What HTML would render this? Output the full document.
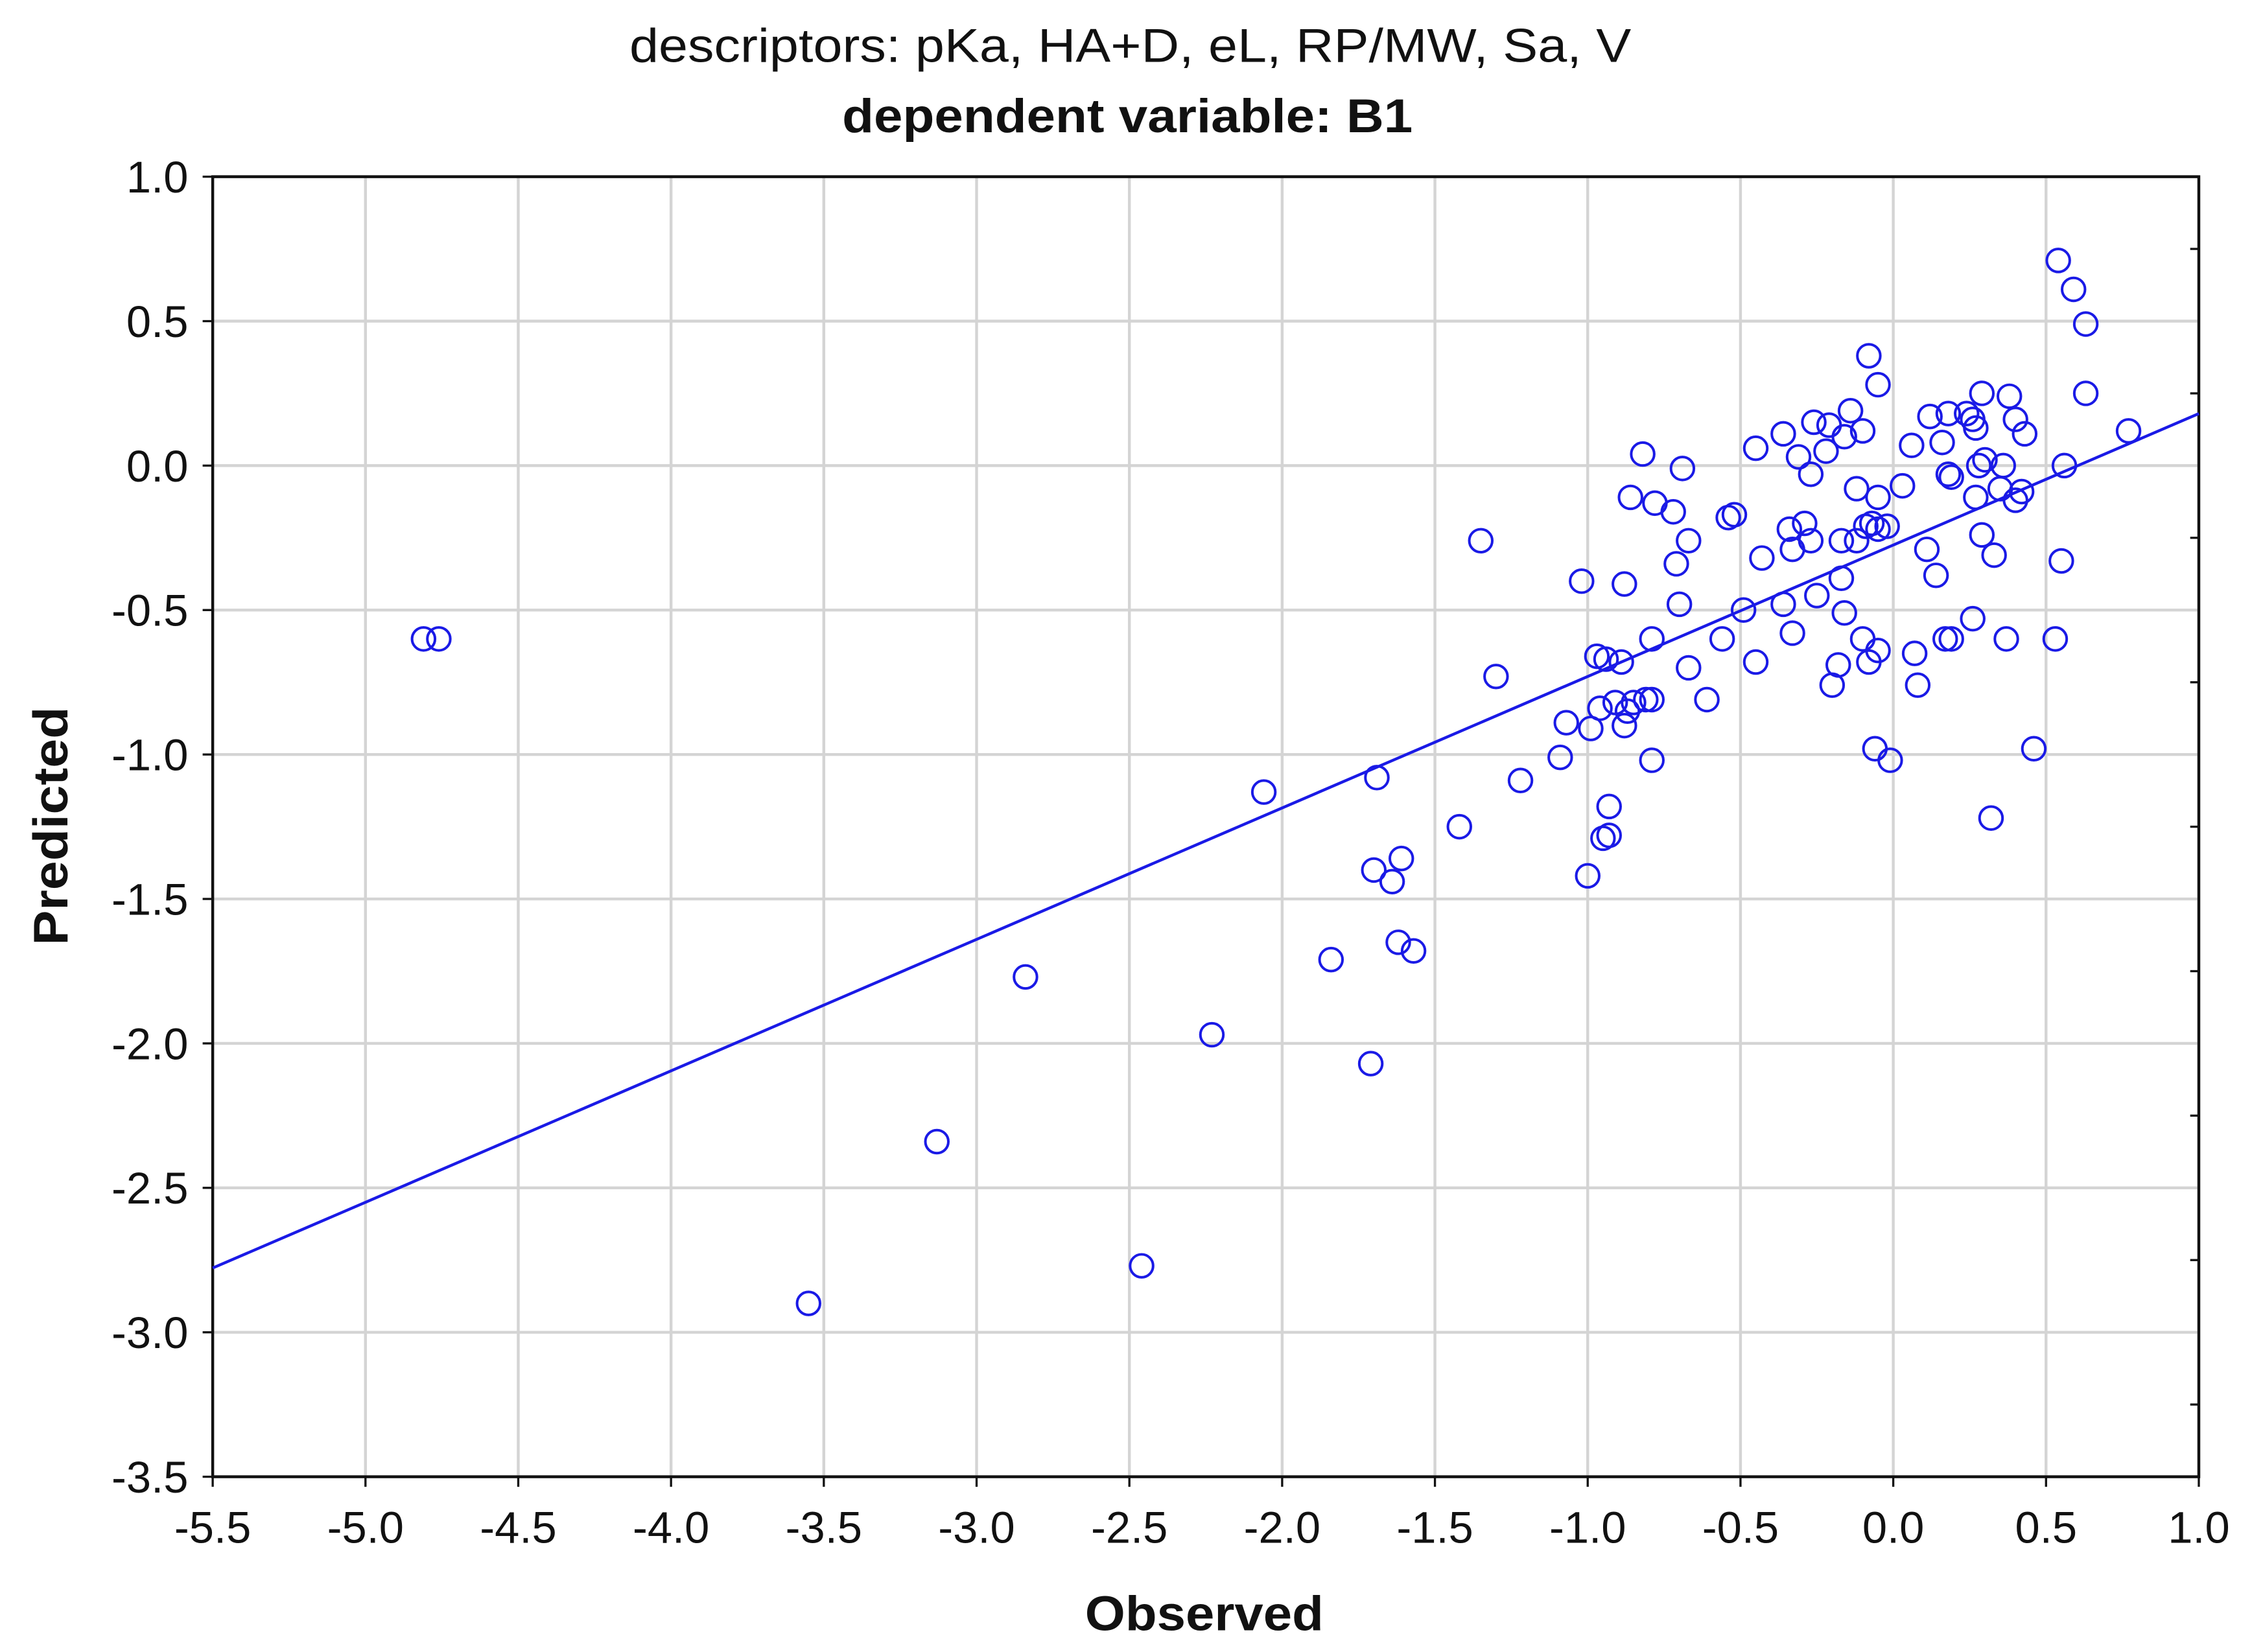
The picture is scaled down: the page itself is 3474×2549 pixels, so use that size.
<!DOCTYPE html>
<html><head><meta charset="utf-8"><style>html,body{margin:0;padding:0;background:#fff}svg{display:block}</style></head>
<body>
<svg id="chart" width="3474" height="2549" viewBox="0 0 1567 1150" preserveAspectRatio="none" xmlns="http://www.w3.org/2000/svg" font-family="Liberation Sans, Arial, sans-serif">
<text x="438" y="43" font-size="33" fill="#111" textLength="697" lengthAdjust="spacingAndGlyphs">descriptors: pKa, HA+D, eL, RP/MW, Sa, V</text>
<text x="586" y="92" font-size="33" font-weight="bold" fill="#111" textLength="397" lengthAdjust="spacingAndGlyphs">dependent variable: B1</text>
<g id="grid"></g>
<g id="axes"></g>
<g id="marks"></g>
<text x="755" y="1135" font-size="34" font-weight="bold" fill="#111" textLength="166" lengthAdjust="spacingAndGlyphs">Observed</text>
<text transform="translate(47,658) rotate(-90)" font-size="34" font-weight="bold" fill="#111" textLength="166" lengthAdjust="spacingAndGlyphs">Predicted</text>
</svg>
<script>
const xTicks = [-5.5,-5.0,-4.5,-4.0,-3.5,-3.0,-2.5,-2.0,-1.5,-1.0,-0.5,0.0,0.5,1.0];
const yTicks = [1.0,0.5,0.0,-0.5,-1.0,-1.5,-2.0,-2.5,-3.0,-3.5];
const regression = [-0.275, 0.455];
const observed = [-4.81,-4.76,-3.55,-3.13,-2.84,-2.46,-2.23,-2.06,-1.84,-1.71,-1.69,-1.70,-1.64,-1.61,-1.62,-1.57,-1.42,-1.35,-1.30,-1.22,-1.09,-1.07,-1.02,-1.00,-0.99,-0.97,-0.96,-0.95,-0.93,-0.93,-0.94,-0.91,-0.89,-0.88,-0.88,-0.87,-0.86,-0.85,-0.82,-0.81,-0.79,-0.79,-0.79,-0.78,-0.72,-0.71,-0.70,-0.69,-0.67,-0.67,-0.61,-0.56,-0.54,-0.52,-0.49,-0.45,-0.45,-0.43,-0.36,-0.36,-0.34,-0.33,-0.33,-0.31,-0.29,-0.27,-0.27,-0.26,-0.25,-0.22,-0.21,-0.20,-0.18,-0.17,-0.17,-0.16,-0.16,-0.14,-0.12,-0.12,-0.10,-0.10,-0.09,-0.08,-0.08,-0.07,-0.06,-0.05,-0.05,-0.05,-0.05,-0.02,-0.01,0.03,0.06,0.07,0.08,0.11,0.12,0.14,0.16,0.17,0.18,0.18,0.19,0.19,0.24,0.26,0.26,0.27,0.27,0.28,0.29,0.29,0.30,0.32,0.33,0.35,0.36,0.37,0.38,0.40,0.40,0.42,0.43,0.46,0.53,0.54,0.55,0.56,0.59,0.63,0.63,0.77];
const predicted = [-0.60,-0.60,-2.90,-2.34,-1.77,-2.77,-1.97,-1.13,-1.71,-2.07,-1.08,-1.40,-1.44,-1.36,-1.65,-1.68,-1.25,-0.26,-0.73,-1.09,-1.01,-0.89,-0.40,-1.42,-0.91,-0.66,-0.84,-1.29,-1.28,-1.18,-0.67,-0.82,-0.68,-0.41,-0.90,-0.85,-0.11,-0.82,0.04,-0.81,-0.81,-0.60,-1.02,-0.13,-0.16,-0.34,-0.48,-0.01,-0.26,-0.70,-0.81,-0.60,-0.18,-0.17,-0.50,0.06,-0.68,-0.32,-0.48,0.11,-0.22,-0.58,-0.29,0.03,-0.20,-0.26,-0.03,0.15,-0.45,0.05,0.14,-0.76,-0.69,-0.26,-0.39,0.10,-0.51,0.19,-0.08,-0.26,-0.60,0.12,-0.21,-0.68,0.38,-0.20,-0.98,-0.11,-0.22,-0.64,0.28,-0.21,-1.02,-0.07,0.07,-0.65,-0.76,-0.29,0.17,-0.38,0.08,-0.60,0.18,-0.03,-0.60,-0.04,0.18,0.16,-0.53,0.13,-0.11,0.00,-0.24,0.25,0.02,-1.22,-0.31,-0.08,0.00,-0.60,0.24,-0.12,0.16,-0.09,0.11,-0.98,-0.60,0.71,-0.33,0.00,0.61,0.49,0.25,0.12];

const NS='http://www.w3.org/2000/svg';
const L=148,R=1530,T=123,B=1028;
const xMin=-5.5,xMax=1.0,yMin=-3.5,yMax=1.0;
function sx(v){return L+(v-xMin)/(xMax-xMin)*(R-L);}
function sy(v){return B-(v-yMin)/(yMax-yMin)*(B-T);}
function mk(tag,attrs,parent){const e=document.createElementNS(NS,tag);for(const k in attrs)e.setAttribute(k,attrs[k]);parent.appendChild(e);return e;}
const grid=document.getElementById('grid'),axes=document.getElementById('axes'),marks=document.getElementById('marks');
xTicks.forEach(t=>{
  const g=mk('line',{x1:sx(t),x2:sx(t),y1:T,y2:B,stroke:'#d4d4d4','stroke-width':2},grid);
  
  
  const tk=mk('line',{x1:sx(t),x2:sx(t),y1:B,y2:B+7,stroke:'#111','stroke-width':1.5},axes);
  
  
  const lb=mk('text',{x:sx(t),y:1074,'text-anchor':'middle','font-size':31,fill:'#111'},axes);
  lb.textContent=t.toFixed(1);
  
  
});
yTicks.forEach(t=>{
  const g=mk('line',{x1:L,x2:R,y1:sy(t),y2:sy(t),stroke:'#d4d4d4','stroke-width':2},grid);
  
  
  const tk=mk('line',{x1:L-7,x2:L,y1:sy(t),y2:sy(t),stroke:'#111','stroke-width':1.5},axes);
  
  
  if(t-0.25>yMin){
    const tr=mk('line',{x1:R-6,x2:R,y1:sy(t-0.25),y2:sy(t-0.25),stroke:'#111','stroke-width':1.5},axes);
    
    
  }
  const lb=mk('text',{x:131,y:sy(t)+11,'text-anchor':'end','font-size':31,fill:'#111'},axes);
  lb.textContent=t.toFixed(1);
  
  
});
const frame=mk('rect',{x:L,y:T,width:R-L,height:B-T,fill:'none',stroke:'#111','stroke-width':2},axes);


const fit=mk('line',{x1:sx(xMin),y1:sy(regression[0]+regression[1]*xMin),x2:sx(xMax),y2:sy(regression[0]+regression[1]*xMax),stroke:'#1a1ae6','stroke-width':2},marks);


observed.forEach((o,i)=>{
  const c=mk('circle',{cx:sx(o),cy:sy(predicted[i]),r:8,fill:'none',stroke:'#1a1ae6','stroke-width':1.8},marks);
  
  
});
</script>
</body></html>
